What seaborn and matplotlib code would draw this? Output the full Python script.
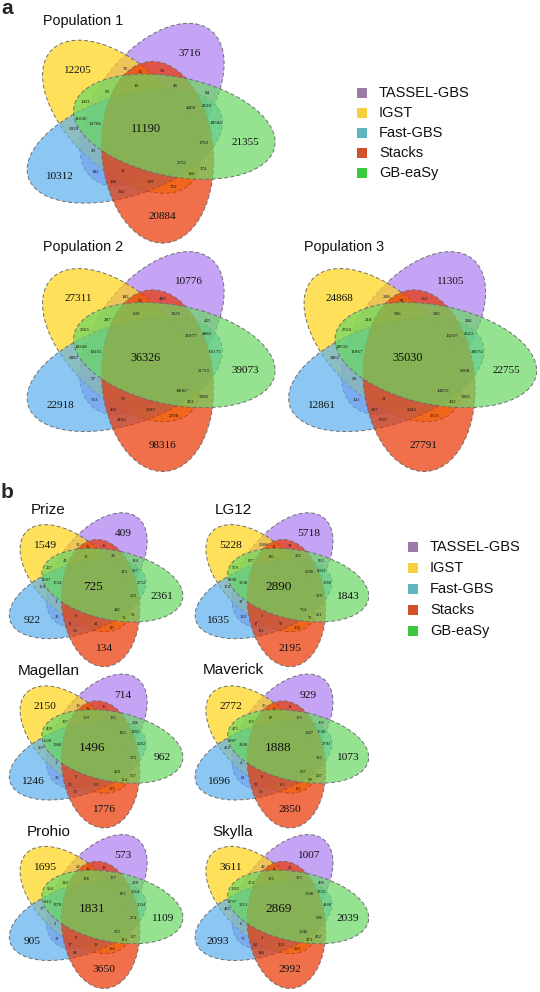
import numpy as np
import matplotlib
matplotlib.use("Agg")
import matplotlib.pyplot as plt
from matplotlib.patches import Ellipse, Rectangle
from matplotlib.colors import to_rgba
import seaborn as sns

# ---------------- data ----------------
SETS = ["TASSEL-GBS", "IGST", "Fast-GBS", "Stacks", "GB-eaSy"]
# order of region counts: IGST only, TASSEL only, GB-eaSy only, Fast only, Stacks only,
# all five, then the 25 inner regions (fixed reading order)
population_1 = [12205, 3716, 21355, 10312, 20884, 11190, 70, 16, 56, 10, 46, 84, 99, 1431,
                4409, 4520, 11036, 10768, 18584, 2020, 1760, 29, 2732, 374, 182, 21, 120,
                146, 529, 762, 263]
population_2 = [27311, 10776, 39073, 22918, 98316, 36326, 182, 93, 483, 639, 1025, 425, 287,
                2565, 21977, 4882, 18348, 10455, 60173, 3887, 21715, 57, 18067, 3085, 353,
                53, 453, 452, 2687, 2708, 4181]
population_3 = [24868, 11305, 22755, 12861, 27791, 35030, 208, 78, 561, 306, 583, 284, 218,
                2550, 13207, 4523, 18532, 11867, 28074, 3862, 9208, 50, 14872, 1081, 341,
                51, 402, 367, 2242, 2515, 1707]
prize = [1549, 409, 2361, 922, 134, 725, 12, 35, 15, 12, 34, 184, 40, 227, 313, 927, 2597,
         1724, 2712, 154, 203, 1, 441, 55, 26, 0, 16, 8, 41, 83, 30]
lg12 = [5228, 5718, 1843, 1635, 2195, 2890, 2686, 15, 31, 116, 221, 963, 627, 579, 2058,
        4033, 1890, 3238, 3686, 174, 529, 37, 754, 211, 120, 3, 71, 17, 97, 256, 121]
magellan = [2150, 714, 962, 1246, 1776, 1496, 19, 75, 16, 109, 135, 246, 187, 459, 862,
            1455, 1528, 1988, 2262, 267, 275, 1, 469, 367, 23, 2, 154, 25, 102, 135, 73]
maverick = [2772, 929, 1073, 1696, 2850, 1888, 36, 5, 8, 67, 153, 302, 159, 471, 1067,
            1630, 1887, 2838, 2793, 462, 332, 4, 567, 207, 61, 0, 99, 53, 133, 181, 50]
prohio = [1695, 573, 1109, 905, 3650, 1831, 22, 25, 18, 128, 127, 229, 143, 584, 871, 1064,
          1315, 1378, 2034, 77, 274, 2, 522, 157, 32, 0, 113, 17, 33, 186, 98]
skylla = [3611, 1007, 2039, 2093, 2992, 2869, 42, 4, 21, 325, 323, 495, 374, 1062, 1598,
          3225, 2737, 3213, 4168, 485, 596, 6, 1046, 452, 73, 3, 473, 24, 202, 283, 148]
titles_a = ["Population 1", "Population 2", "Population 3"]
titles_b = ["Prize", "LG12", "Magellan", "Maverick", "Prohio", "Skylla"]

# ---------------- style / layout ----------------
sns.set_theme(style="white")
FILL = {"TASSEL-GBS": "#AE7EF1", "IGST": "#FFD316", "Fast-GBS": "#5BB0EE",
        "Stacks": "#EA3300", "GB-eaSy": "#69D862"}
ALPHA = 0.70
LEG = {"TASSEL-GBS": "#9C7BA8", "IGST": "#F7D040", "Fast-GBS": "#5FB5C0",
       "Stacks": "#D2502A", "GB-eaSy": "#3CC83C"}
ROT_INDEX = {"Stacks": 0, "GB-eaSy": 1, "TASSEL-GBS": 2, "IGST": 3, "Fast-GBS": 4}
A_AX, B_AX, DIST = 0.13, 0.24, 0.0664
CENTER_DIR0, AXIS0 = -66.0, 94.0
SX, SY = 429.0, 379.0
R = 0.42

POS = [(-0.158, 0.156), (0.101, 0.2005), (0.231, -0.035), (-0.2005, -0.125), (0.038, -0.2306),
       (0.0, 0.0),
       (-0.049, 0.159), (-0.014, 0.150), (0.039, 0.155), (-0.023, 0.114), (0.068, 0.115),
       (0.143, 0.097), (-0.090, 0.099), (-0.142, 0.073), (0.104, 0.057), (0.143, 0.062),
       (-0.152, 0.027), (-0.118, 0.014), (0.162, 0.016), (-0.169, 0.0), (0.135, -0.035),
       (-0.124, -0.056), (0.083, -0.088), (0.135, -0.105), (-0.119, -0.112), (-0.054, -0.110),
       (0.105, -0.118), (-0.076, -0.138), (0.011, -0.138), (0.064, -0.153), (-0.057, -0.165)]

W, H = 540, 992
fig = plt.figure(figsize=(W / 100, H / 100), dpi=100)

NUMFONT = "Liberation Serif"
SANS = "Liberation Sans"


def venn(values, cx, cy, s, fs_big, fs_mid, fs_small):
    sx, sy = SX * s, SY * s
    ax = fig.add_axes([(cx - R * sx) / W, 1 - (cy + R * sy) / H, 2 * R * sx / W, 2 * R * sy / H])
    ax.set_xlim(-R, R)
    ax.set_ylim(-R, R)
    ax.axis("off")
    for name in SETS:
        k = ROT_INDEX[name]
        ang = np.deg2rad(CENTER_DIR0 + 72 * k)
        e = Ellipse((DIST * np.cos(ang), DIST * np.sin(ang)), width=2 * B_AX, height=2 * A_AX,
                    angle=AXIS0 + 72 * k, facecolor=to_rgba(FILL[name], ALPHA),
                    edgecolor="#6E6E6E", linestyle=(0, (4, 2.5)), linewidth=0.7, clip_on=False)
        ax.add_patch(e)
    for i, (v, (x, y)) in enumerate(zip(values, POS)):
        fs = fs_big if i < 5 else (fs_mid if i == 5 else fs_small)
        ax.text(x, y, str(v), ha="center", va="center", fontsize=fs, family=NUMFONT,
                color="#111111", clip_on=False)
    return ax


ov = fig.add_axes([0, 0, 1, 1], zorder=10)
ov.set_xlim(0, W)
ov.set_ylim(H, 0)
ov.axis("off")

# panel a
a_layout = [(146, 129.3, 83, 20.5), (146, 357.7, 83, 247.5), (407.5, 357.7, 344.5, 247.5)]
for vals, title, (cx, cy, tx, ty) in zip([population_1, population_2, population_3], titles_a, a_layout):
    venn(vals, cx, cy, 1.0, 8.0, 8.8, 3.6)
    ov.text(tx, ty, title, ha="center", va="center", fontsize=10.4, family=SANS, color="#111111")

# panel b
b_layout = [(92.5, 587, 48.5, 510), (278.3, 587, 233, 510),
            (92.5, 748.3, 49, 670.5), (278.3, 748.3, 233, 670.5),
            (92.5, 908.8, 49, 832), (278.3, 908.8, 233, 832)]
for vals, title, (cx, cy, tx, ty) in zip([prize, lg12, magellan, maverick, prohio, skylla], titles_b, b_layout):
    venn(vals, cx, cy, 0.70, 8.2, 9.5, 3.3)
    ov.text(tx, ty, title, ha="center", va="center", fontsize=11, family=SANS, color="#111111")

ov.text(1, 8, "a", ha="left", va="center", fontsize=15, fontweight="bold", family=SANS)
ov.text(1, 493, "b", ha="left", va="center", fontsize=15, fontweight="bold", family=SANS)

# legends
def legend(x_sq, y0, dy, x_txt):
    for j, name in enumerate(SETS):
        y = y0 + j * dy
        ov.add_patch(Rectangle((x_sq - 5, y - 5), 10, 10, facecolor=LEG[name], edgecolor="none"))
        ov.text(x_txt, y, name, ha="left", va="center", fontsize=10.5, family=SANS, color="#111111")

legend(362, 92.7, 20, 379)
legend(413, 547.3, 21, 430)

fig.savefig("out.png", dpi=100)
